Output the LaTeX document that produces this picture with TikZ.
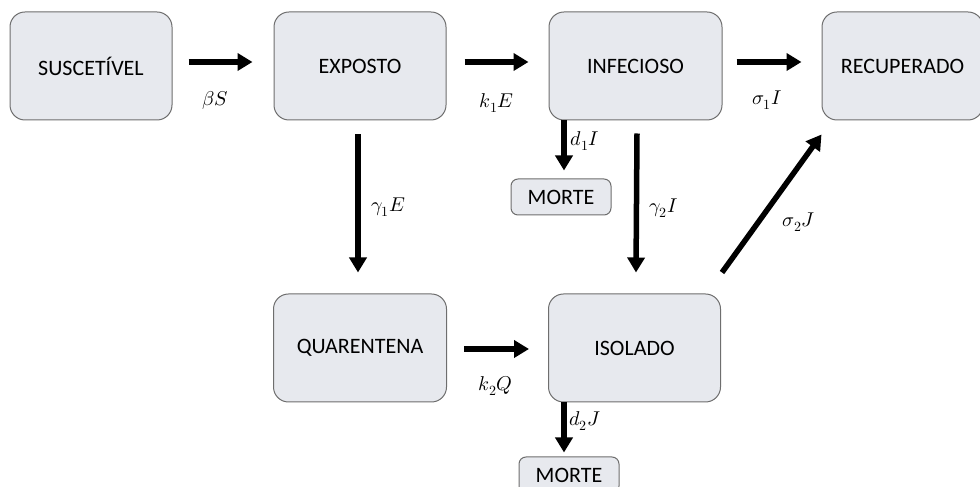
\documentclass[tikz,border=0pt]{standalone}
\usepackage{amsmath}
\usepackage{fontspec}
\usepackage{unicode-math}
\setmainfont{Carlito}
\setmathfont{Latin Modern Math}
\usetikzlibrary{positioning,arrows.meta}
\definecolor{caixacor}{RGB}{231,233,238}
\definecolor{bordacor}{RGB}{110,110,110}

\begin{document}
\begin{tikzpicture}[x=1pt,y=1pt]
	\tikzset{caixa/.style={draw=bordacor,line width=1pt,fill=caixacor,rounded corners=15pt,minimum width=172pt,minimum height=108pt,font=\fontsize{22}{26}\selectfont}}
	\tikzset{morte/.style={caixa,rounded corners=7pt,minimum width=100pt,minimum height=36pt}}
	\tikzset{seta/.style={line width=5.5pt,-{Triangle[length=15pt,width=17pt]}}}
	\tikzset{rotulo/.style={font=\fontsize{20}{24}\selectfont}}
	\useasboundingbox (0,0) rectangle (980,487);

% linha de cima
\node[caixa,minimum width=162pt] (sus) at (91,421) {SUSCETÍVEL};
\node[caixa,right=101pt of sus] (exp) {EXPOSTO};
\node[caixa,minimum width=173pt,right=102pt of exp] (inf) {INFECIOSO};
\node[caixa,minimum width=161pt,right=99pt of inf] (rec) {RECUPERADO};
% linha de baixo
\node[caixa,minimum width=173pt,below=173pt of exp] (qua) {QUARENTENA};
\node[caixa,right=101pt of qua] (iso) {ISOLADO};
\node[morte] (mor1) at (561,290) {MORTE};
\node[morte] (mor2) at (569,12) {MORTE};

\draw[seta] ([shift={(16,4)}]sus.east) -- ([shift={(-21,4)}]exp.west)
	node[rotulo,midway,xshift=-5pt,yshift=-38pt] {$\beta S$};
\draw[seta] ([shift={(18,4)}]exp.east) -- ([shift={(-20,4)}]inf.west)
	node[rotulo,midway,yshift=-41pt] {$k_1E$};
\draw[seta] ([shift={(14,4)}]inf.east) -- ([shift={(-20,4)}]rec.west)
	node[rotulo,midway,xshift=-2pt,yshift=-38pt] {$\sigma_1I$};
\draw[seta] ([shift={(-2,-14)}]exp.south) -- ([shift={(-2,21)}]qua.north)
	node[rotulo,midway,xshift=30pt,yshift=-4pt] {$\gamma_1E$};
\draw[seta] ([shift={(1.5,-13)}]inf.south) -- ([shift={(1.5,21)}]iso.north)
	node[rotulo,midway,xshift=27pt,yshift=-5pt] {$\gamma_2I$};
\draw[seta] ([xshift=3pt]mor1.north |- inf.south) -- ([shift={(3,8)}]mor1.north)
	node[rotulo,midway,xshift=21pt,yshift=4pt] {$d_1I$};
\draw[seta] ([shift={(17,-1)}]qua.east) -- ([shift={(-19,-1)}]iso.west)
	node[rotulo,midway,xshift=-1pt,yshift=-37pt] {$k_2Q$};
\draw[seta] ([xshift=-5pt]mor2.north |- iso.south) -- ([shift={(-5,4)}]mor2.north)
	node[rotulo,midway,xshift=21pt,yshift=6pt] {$d_2J$};
\draw[seta] ([shift={(1,21)}]iso.north east) -- ([shift={(0,-14)}]rec.south west)
	node[rotulo,midway,xshift=27pt,yshift=-19pt] {$\sigma_2J$};

	\end{tikzpicture}
\end{document}
